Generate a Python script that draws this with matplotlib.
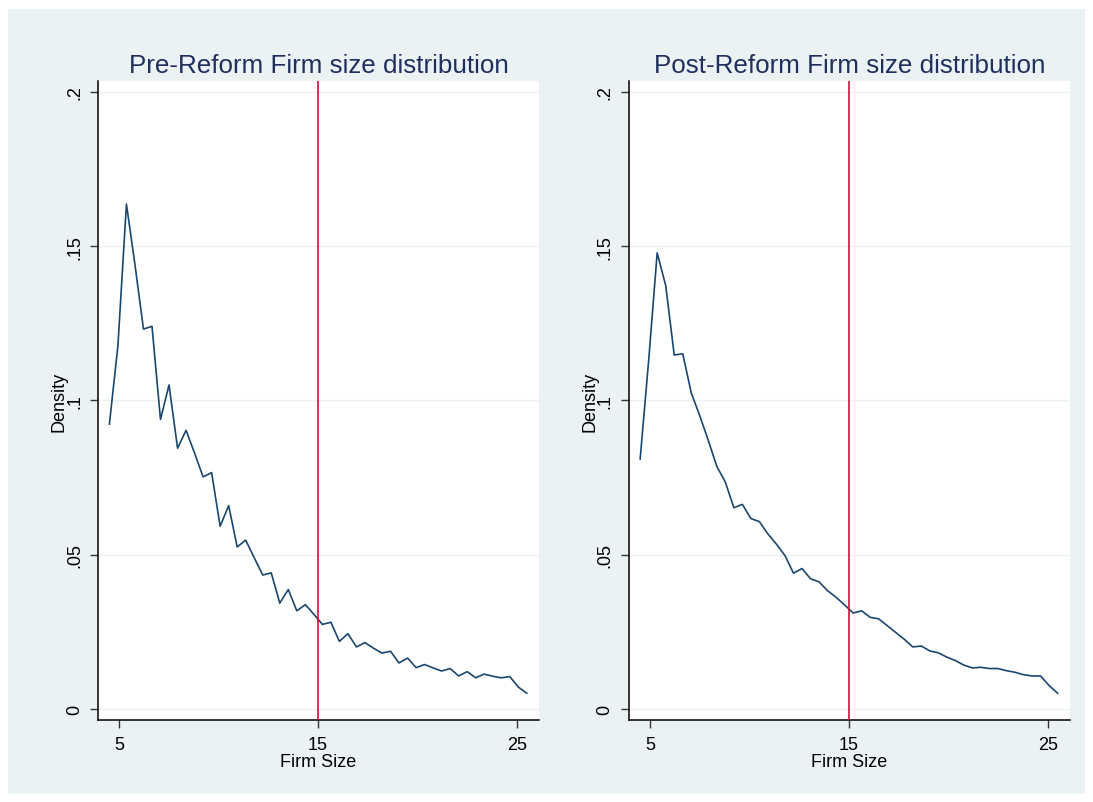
import matplotlib
matplotlib.use("Agg")
import matplotlib.pyplot as plt
from matplotlib.patches import Rectangle

# ===== data (kernel density, 50 evaluation points) =====
firm_size = [4.500, 4.929, 5.357, 5.786, 6.214, 6.643, 7.071, 7.500, 7.929, 8.357,
             8.786, 9.214, 9.643, 10.071, 10.500, 10.929, 11.357, 11.786, 12.214, 12.643,
             13.071, 13.500, 13.929, 14.357, 14.786, 15.214, 15.643, 16.071, 16.500, 16.929,
             17.357, 17.786, 18.214, 18.643, 19.071, 19.500, 19.929, 20.357, 20.786, 21.214,
             21.643, 22.071, 22.500, 22.929, 23.357, 23.786, 24.214, 24.643, 25.071, 25.500]

pre_density = [0.0923, 0.1177, 0.1636, 0.1440, 0.1231, 0.1240, 0.0938, 0.1050, 0.0845, 0.0903,
               0.0829, 0.0752, 0.0766, 0.0592, 0.0659, 0.0525, 0.0547, 0.0490, 0.0434, 0.0441,
               0.0343, 0.0387, 0.0318, 0.0338, 0.0307, 0.0274, 0.0281, 0.0219, 0.0244, 0.0201,
               0.0215, 0.0197, 0.0181, 0.0187, 0.0149, 0.0165, 0.0134, 0.0144, 0.0133, 0.0123,
               0.0131, 0.0107, 0.0121, 0.0101, 0.0113, 0.0106, 0.0101, 0.0105, 0.0071, 0.0051]

post_density = [0.0810, 0.1130, 0.1478, 0.1372, 0.1147, 0.1151, 0.1024, 0.0950, 0.0870, 0.0786,
                0.0735, 0.0652, 0.0663, 0.0617, 0.0607, 0.0567, 0.0534, 0.0497, 0.0440, 0.0455,
                0.0422, 0.0412, 0.0383, 0.0362, 0.0337, 0.0311, 0.0318, 0.0297, 0.0292, 0.0270,
                0.0248, 0.0226, 0.0201, 0.0204, 0.0188, 0.0182, 0.0168, 0.0157, 0.0142, 0.0133,
                0.0135, 0.0131, 0.0131, 0.0124, 0.0119, 0.0111, 0.0107, 0.0107, 0.0076, 0.0051]

titles = ["Pre-Reform Firm size distribution", "Post-Reform Firm size distribution"]
threshold = 15
xticks = [5, 15, 25]
yticks = [0, 0.05, 0.10, 0.15, 0.20]
ytick_labels = ["0", ".05", ".1", ".15", ".2"]

# ===== style (Stata s2color look) =====
plt.rcParams["font.family"] = ["Liberation Sans", "DejaVu Sans"]
BG = "#EAF2F3"
LINE = "#1A476F"
TITLE = "#1F2F5E"
RED = "#D0103A"

fig = plt.figure(figsize=(10.93, 8.03), dpi=100, facecolor="white")
fig.patches.append(Rectangle((8 / 1093, 8 / 803), 1077 / 1093, 785 / 803,
                             transform=fig.transFigure, facecolor=BG,
                             edgecolor="none", zorder=-10))

panels = [(0.0899, pre_density), (0.5755, post_density)]
for (left, dens), title in zip(panels, titles):
    ax = fig.add_axes([left, 0.1018, 0.403, 0.7965])
    ax.set_facecolor("white")
    ax.plot(firm_size, dens, color=LINE, linewidth=1.2, zorder=3)
    ax.axvline(threshold, color=RED, linewidth=1.2, zorder=4)

    ax.set_xlim(3.94, 26.1)
    ax.set_ylim(-0.00366, 0.2036)
    ax.set_xticks(xticks)
    ax.set_yticks(yticks)
    ax.set_yticklabels(ytick_labels, rotation=90, va="center")
    ax.tick_params(axis="both", labelsize=13, length=6, width=1, pad=5, color="#333333")
    for y in yticks:
        ax.axhline(y, color=BG, linewidth=1, zorder=1)

    for side in ["top", "right"]:
        ax.spines[side].set_visible(False)
    for side in ["left", "bottom"]:
        ax.spines[side].set_linewidth(1.1)
        ax.spines[side].set_color("black")

    ax.set_title(title, fontsize=18.7, color=TITLE, pad=6)
    ax.set_xlabel("Firm Size", fontsize=13, labelpad=0)
    ax.set_ylabel("Density", fontsize=13, labelpad=-1)

fig.savefig("out.png", dpi=100, facecolor="white")
